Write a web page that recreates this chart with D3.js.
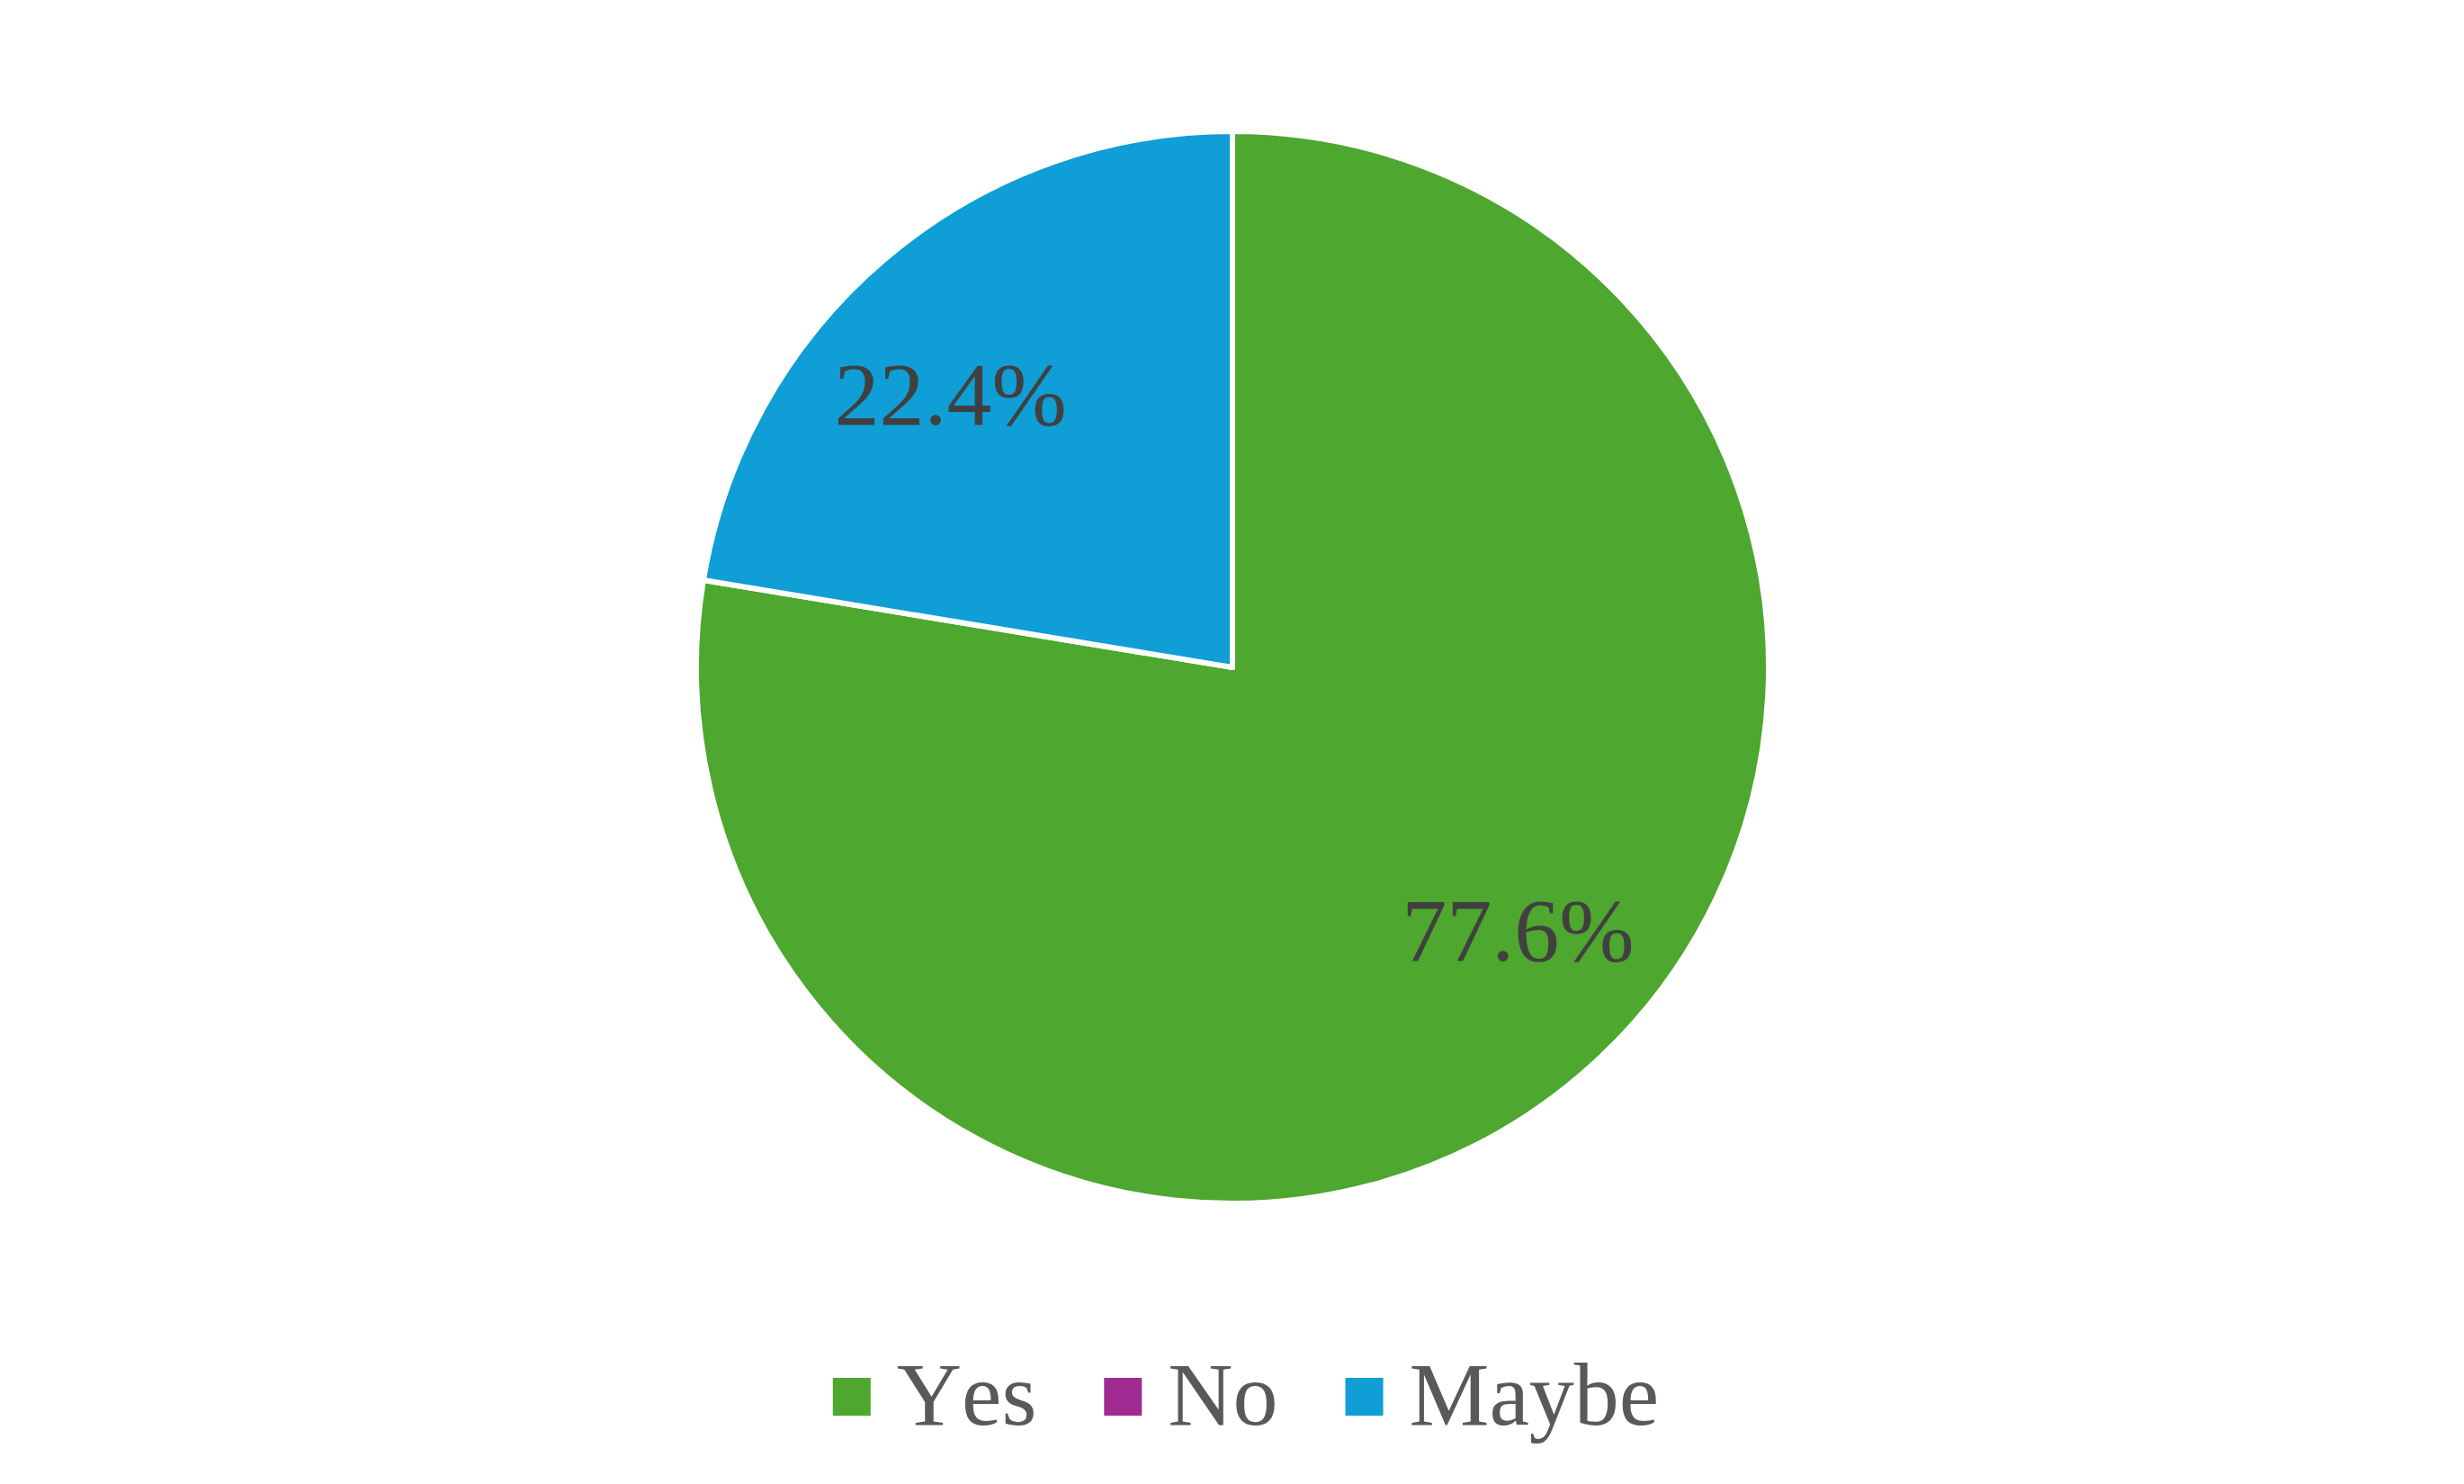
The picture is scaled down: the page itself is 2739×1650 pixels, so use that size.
<!DOCTYPE html>
<html>
<head>
<meta charset="utf-8">
<script src="https://cdn.jsdelivr.net/npm/d3@7.9.0/dist/d3.min.js"></script>
<style>
  html, body { margin: 0; padding: 0; background: #fff; }
  svg { display: block; }
  text { font-family: "Liberation Serif", "Times New Roman", Times, serif; font-kerning: none; }
</style>
</head>
<body>
<svg id="chart" width="2739" height="1650"></svg>
<script>
// Chart data
const categories = ["Yes", "No", "Maybe"];
const values = [77.6, 0, 22.4];
const colors = ["#4EA72E", "#A02B93", "#0F9ED5"];

const width = 2739, height = 1650;
const cx = 1370, cy = 742, radius = 596;

const svg = d3.select("#chart");
const g = svg.append("g").attr("transform", `translate(${cx},${cy})`);

const data = categories.map((c, i) => ({ label: c, value: values[i], color: colors[i] }));

// Pie slices, starting at 12 o'clock, clockwise, original order
const pie = d3.pie().value(d => d.value).sort(null);
const arc = d3.arc().innerRadius(0).outerRadius(radius);
const arcs = pie(data);

g.selectAll("path")
  .data(arcs.filter(d => d.data.value > 0))
  .join("path")
  .attr("d", arc)
  .attr("fill", d => d.data.color)
  .attr("stroke", "#fff")
  .attr("stroke-width", 6)
  .attr("stroke-linejoin", "round");

// Data labels (Excel places them a bit wider than tall)
const labelArc = d3.arc().innerRadius(0).outerRadius(radius * 1.33);
g.selectAll("text.lbl")
  .data(arcs.filter(d => d.data.value > 0))
  .join("text")
  .attr("class", "lbl")
  .attr("x", d => labelArc.centroid(d)[0] * 1.23 + 2)
  .attr("y", d => labelArc.centroid(d)[1] * 0.985)
  .attr("dy", "0.28em")
  .attr("text-anchor", "middle")
  .attr("font-size", 100)
  .attr("fill", "#404040")
  .text(d => d.data.value.toFixed(1) + "%");

// Legend
const sq = 42, gapText = 29, gapItem = 75, legendY = 1553;
const legend = svg.append("g");
const items = legend.selectAll("g")
  .data(data)
  .join("g");

items.append("rect")
  .attr("width", sq)
  .attr("height", sq)
  .attr("y", legendY - sq / 2)
  .attr("fill", d => d.color);

items.append("text")
  .attr("x", sq + gapText)
  .attr("y", legendY + 31)
  .attr("font-size", 100)
  .attr("fill", "#595959")
  .text(d => d.label);

// Lay out legend items horizontally and center them
let xPos = 0;
items.each(function () {
  const w = d3.select(this).select("text").node().getComputedTextLength();
  d3.select(this).attr("transform", `translate(${xPos},0)`);
  xPos += sq + gapText + w + gapItem;
});
const totalW = xPos - gapItem;
legend.attr("transform", `translate(${1385 - totalW / 2},0)`);
</script>
</body>
</html>
